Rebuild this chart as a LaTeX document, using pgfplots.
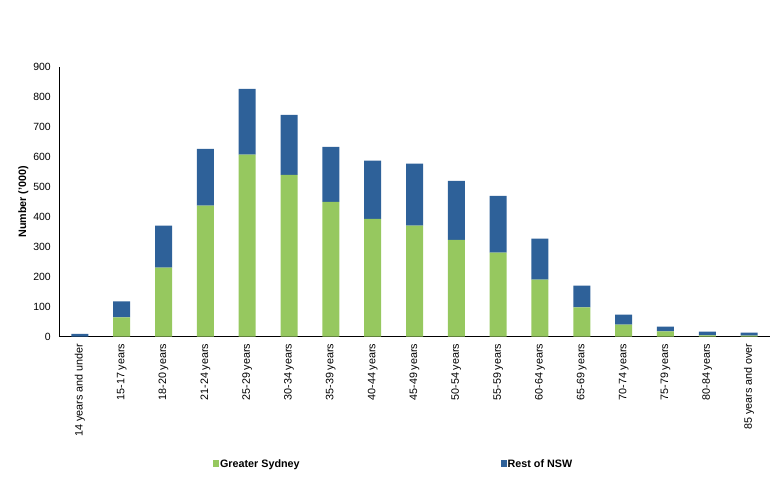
\documentclass[border=0pt]{standalone}
\usepackage{fontspec}
\setmainfont{Liberation Sans}
\usepackage{pgfplots}
\pgfplotsset{compat=1.18}

\definecolor{sydgreen}{RGB}{150,200,95}
\definecolor{nswblue}{RGB}{46,97,153}

\begin{document}
\begin{tikzpicture}
\path[use as bounding box] (0,0) rectangle (782bp,483bp);
\begin{axis}[
    at={(59bp,146.5bp)}, anchor=south west,
    scale only axis,
    width=711bp, height=269.5bp,
    ybar stacked,
    bar width=17bp,
    ymin=0, ymax=900,
    xmin=-0.5, xmax=16.5,
    ytick={0,100,...,900},
    xtick={0,...,16},
    xticklabels={14 years and under,15-17 years,18-20 years,21-24 years,25-29 years,30-34 years,35-39 years,40-44 years,45-49 years,50-54 years,55-59 years,60-64 years,65-69 years,70-74 years,75-79 years,80-84 years,85 years and over},
    axis lines=left,
    axis line style={-, line width=1bp, black},
    major tick length=0pt,
    /pgf/number format/assume math mode=true,
    yticklabel style={anchor=east, inner sep=0pt, font=\fontsize{10.5}{12}\selectfont},
    xticklabel style={rotate=90, anchor=east, inner sep=0pt, font=\fontsize{10.8}{12}\selectfont},
    xticklabel shift=7bp,
    yticklabel shift=8bp,
    ylabel={Number ('000)},
    ylabel style={at={(axis description cs:-0.05,0.5)}, anchor=center, font=\fontsize{10.8}{12}\selectfont\bfseries},
    legend columns=2,
    legend style={at={(0.47,-0.473)}, anchor=center, draw=none,
        font=\fontsize{10.8}{12}\selectfont\bfseries,
        nodes={inner sep=1bp},
        /tikz/column 2/.style={column sep=200bp}},
    legend image code/.code={\fill[#1] (0bp,-3.5bp) rectangle (6bp,3.5bp);},
]
\addplot[fill=sydgreen, draw=none] coordinates {
(0,0) (1,64) (2,230) (3,437) (4,607) (5,540) (6,450) (7,393) (8,370)
(9,323) (10,280) (11,190) (12,97) (13,40) (14,17) (15,4) (16,3)};
\addlegendentry{Greater Sydney}
\addplot[fill=nswblue, draw=none] coordinates {
(0,9) (1,53) (2,140) (3,190) (4,220) (5,200) (6,183) (7,194) (8,207)
(9,197) (10,190) (11,137) (12,73) (13,33) (14,16) (15,12) (16,10)};
\addlegendentry{Rest of NSW}
\end{axis}
\end{tikzpicture}
\end{document}
